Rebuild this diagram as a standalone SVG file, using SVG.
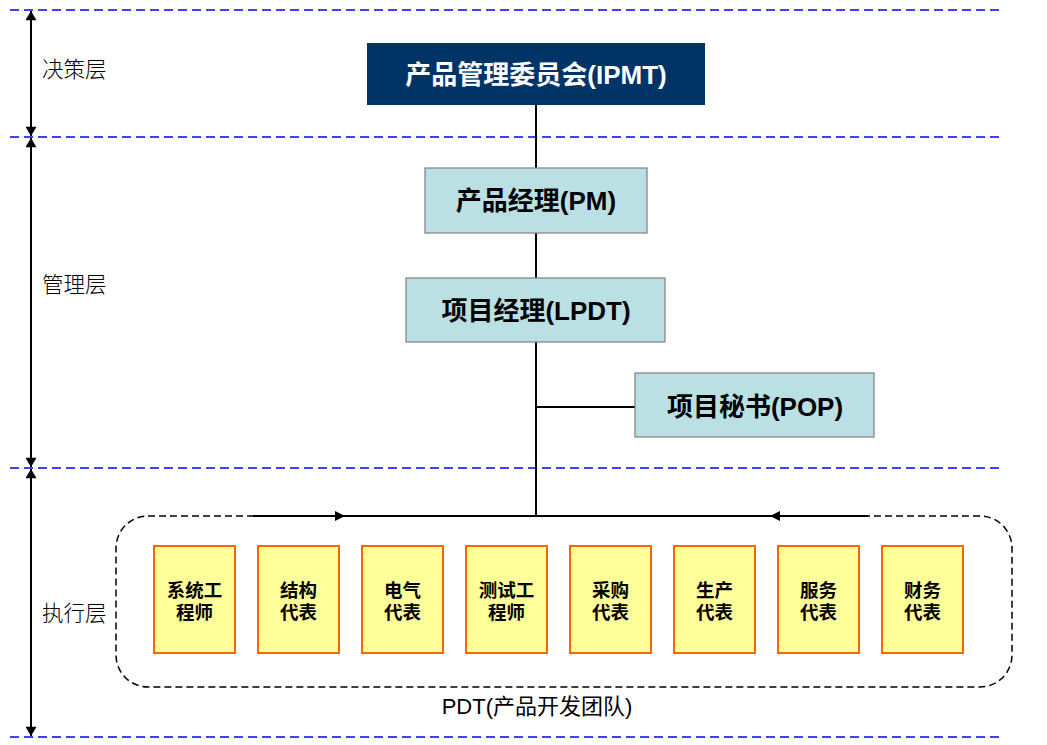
<svg xmlns="http://www.w3.org/2000/svg" width="1047" height="745" viewBox="0 0 1047 745">
<style>
.sep{stroke:#0000FF;stroke-width:1.5;stroke-dasharray:9,5;fill:none}
.dim{stroke:#000;stroke-width:2;fill:none}
.lay{font-family:"Noto Sans CJK SC","Liberation Sans",sans-serif;font-size:21.5px;font-weight:300;fill:#000}
.mgr rect{fill:#BBE0E3;stroke:#7F7F7F;stroke-width:1.2}
.mgr text{font-family:"Liberation Sans","Noto Sans CJK SC",sans-serif;font-size:26px;font-weight:bold;fill:#000;text-anchor:middle}
.rep rect{fill:#FFFF99;stroke:#FF6600;stroke-width:2}
.rep text{font-family:"Liberation Sans","Noto Sans CJK SC",sans-serif;font-size:18.5px;font-weight:bold;fill:#000;text-anchor:middle}
.con{stroke:#000;stroke-width:2;fill:none}
</style>
<defs>
<marker id="ah" viewBox="0 0 10 10" refX="10" refY="5" markerWidth="10" markerHeight="10" markerUnits="userSpaceOnUse" orient="auto-start-reverse">
<path d="M0,0 L10,5 L0,10 z" fill="#000"/>
</marker>
<marker id="dh" viewBox="0 0 10 12" refX="10" refY="6" markerWidth="12" markerHeight="11" markerUnits="userSpaceOnUse" orient="auto-start-reverse">
<path d="M0,0 L10,6 L0,12 z" fill="#000"/>
</marker>
</defs>
<rect width="1047" height="745" fill="#fff"/>
<g id="separators">
<line class="sep" x1="10" y1="10" x2="1000" y2="10"/>
<line class="sep" x1="10" y1="137" x2="1000" y2="137"/>
<line class="sep" x1="10" y1="468" x2="1000" y2="468"/>
<line class="sep" x1="10" y1="737" x2="1000" y2="737"/>
</g>
<g id="layers">
<line class="dim" x1="31" y1="11" x2="31" y2="136" marker-start="url(#dh)" marker-end="url(#dh)"/>
<line class="dim" x1="31" y1="138" x2="31" y2="467" marker-start="url(#dh)" marker-end="url(#dh)"/>
<line class="dim" x1="31" y1="469" x2="31" y2="736" marker-start="url(#dh)" marker-end="url(#dh)"/>
<text class="lay" x="42" y="77">决策层</text>
<text class="lay" x="42" y="292">管理层</text>
<text class="lay" x="42" y="621">执行层</text>
</g>
<g id="connectors">
<line class="con" x1="536" y1="105" x2="536" y2="516"/>
<line class="con" x1="536" y1="407" x2="635" y2="407"/>
<line class="con" x1="253" y1="516" x2="345" y2="516" marker-end="url(#ah)"/>
<line class="con" x1="340" y1="516" x2="780" y2="516"/>
<line class="con" x1="868" y1="516" x2="770" y2="516" marker-end="url(#ah)"/>
</g>
<g id="pdt">
<rect x="116" y="516" width="896" height="171" rx="32" ry="32" fill="none" stroke="#000" stroke-width="1.5" stroke-dasharray="7,4"/>
<text x="537" y="714" font-family="Liberation Sans,Noto Sans CJK SC,sans-serif" font-size="22" text-anchor="middle" fill="#000">PDT(产品开发团队)</text>
</g>
<g id="ipmt">
<rect x="367" y="43" width="338" height="62" fill="#003366"/>
<text x="536" y="84" font-family="Liberation Sans,Noto Sans CJK SC,sans-serif" font-size="26" font-weight="bold" fill="#fff" text-anchor="middle">产品管理委员会(IPMT)</text>
</g>
<g id="pm" class="mgr">
<rect x="425" y="168" width="222" height="65"/>
<text x="536" y="210">产品经理(PM)</text>
</g>
<g id="lpdt" class="mgr">
<rect x="406" y="278" width="259" height="64"/>
<text x="536" y="320">项目经理(LPDT)</text>
</g>
<g id="pop" class="mgr">
<rect x="635" y="373" width="239" height="64"/>
<text x="755" y="416">项目秘书(POP)</text>
</g>
<g id="r1" class="rep"><rect x="154" y="546" width="81" height="107"/><text x="194.5" y="597">系统工</text><text x="194.5" y="619">程师</text></g>
<g id="r2" class="rep"><rect x="258" y="546" width="81" height="107"/><text x="298.5" y="597">结构</text><text x="298.5" y="619">代表</text></g>
<g id="r3" class="rep"><rect x="362" y="546" width="81" height="107"/><text x="402.5" y="597">电气</text><text x="402.5" y="619">代表</text></g>
<g id="r4" class="rep"><rect x="466" y="546" width="81" height="107"/><text x="506.5" y="597">测试工</text><text x="506.5" y="619">程师</text></g>
<g id="r5" class="rep"><rect x="570" y="546" width="81" height="107"/><text x="610.5" y="597">采购</text><text x="610.5" y="619">代表</text></g>
<g id="r6" class="rep"><rect x="674" y="546" width="81" height="107"/><text x="714.5" y="597">生产</text><text x="714.5" y="619">代表</text></g>
<g id="r7" class="rep"><rect x="778" y="546" width="81" height="107"/><text x="818.5" y="597">服务</text><text x="818.5" y="619">代表</text></g>
<g id="r8" class="rep"><rect x="882" y="546" width="81" height="107"/><text x="922.5" y="597">财务</text><text x="922.5" y="619">代表</text></g>
</svg>
